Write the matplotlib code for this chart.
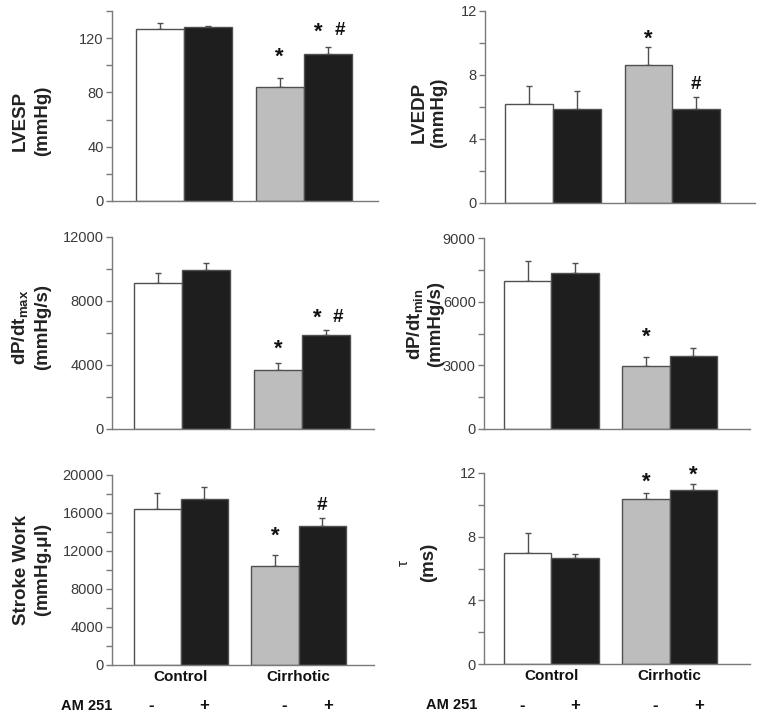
import matplotlib
matplotlib.use("Agg")
import matplotlib.pyplot as plt
from matplotlib.transforms import blended_transform_factory

plt.rcParams['font.family'] = ['Liberation Sans', 'DejaVu Sans']
plt.rcParams['mathtext.default'] = 'regular'

groups = ["Control", "Cirrhotic"]
am251 = ["-", "+", "-", "+"]

lvesp_mean = [127, 128, 84, 108.5]
lvesp_sem = [4, 1, 6.5, 5]
lvedp_mean = [6.2, 5.9, 8.65, 5.9]
lvedp_sem = [1.1, 1.1, 1.1, 0.7]
dpmax_mean = [9100, 9950, 3700, 5880]
dpmax_sem = [650, 400, 450, 280]
dpmin_mean = [6980, 7340, 2990, 3460]
dpmin_sem = [920, 480, 400, 350]
sw_mean = [16400, 17450, 10470, 14610]
sw_sem = [1740, 1320, 1090, 900]
tau_mean = [6.98, 6.63, 10.35, 10.92]
tau_sem = [1.22, 0.25, 0.38, 0.39]

# significance markers per bar
lvesp_sig = ["", "", "*", "* #"]
lvedp_sig = ["", "", "*", "#"]
dpmax_sig = ["", "", "*", "* #"]
dpmin_sig = ["", "", "*", ""]
sw_sig = ["", "", "*", "#"]
tau_sig = ["", "", "*", "*"]
# gap (pixels) between error-bar top and marker centre
lvesp_gap = [0, 0, 24, 18]
lvedp_gap = [0, 0, 11, 15]
dpmax_gap = [0, 0, 16, 15]
dpmin_gap = [0, 0, 23, 0]
sw_gap = [0, 0, 22, 14]
tau_gap = [0, 0, 14, 12]

positions = [0, 1, 2.5, 3.5]
colors = ["white", "#1e1e1e", "#bdbdbd", "#1e1e1e"]
edge = "#505050"
axcol = "#7a7a7a"
tickcol = "#3a3a3a"

fig = plt.figure(figsize=(7.6, 7.21), dpi=100)

W, H = 760.0, 721.0
def rect(x0, x1, ytop, ybot):
    return [x0 / W, 1 - ybot / H, (x1 - x0) / W, (ybot - ytop) / H]

panels = [
    dict(r=rect(112, 378, 11, 201), mean=lvesp_mean, sem=lvesp_sem, sig=lvesp_sig, gap=lvesp_gap,
         ymax=140, step=20, lab=40, l1="LVESP", l2="(mmHg)", ly=0.42, lx=(-0.345, -0.262), xl=(-1.0, 4.55)),
    dict(r=rect(485, 755, 11, 203), mean=lvedp_mean, sem=lvedp_sem, sig=lvedp_sig, gap=lvedp_gap,
         ymax=12, step=2, lab=4, l1="LVEDP", l2="(mmHg)", ly=0.47, lx=(-0.245, -0.172), xl=(-0.92, 4.73)),
    dict(r=rect(112, 374, 237, 429), mean=dpmax_mean, sem=dpmax_sem, sig=dpmax_sig, gap=dpmax_gap,
         ymax=12000, step=2000, lab=4000, l1=r"dP/dt$_{max}$", l2="(mmHg/s)", ly=0.53, lx=(-0.35, -0.265), xl=(-0.96, 4.5)),
    dict(r=rect(484, 750, 238, 429), mean=dpmin_mean, sem=dpmin_sem, sig=dpmin_sig, gap=dpmin_gap,
         ymax=9000, step=1500, lab=3000, l1=r"dP/dt$_{min}$", l2="(mmHg/s)", ly=0.55, lx=(-0.26, -0.18), xl=(-0.92, 4.7)),
    dict(r=rect(112, 374, 475, 665), mean=sw_mean, sem=sw_sem, sig=sw_sig, gap=sw_gap,
         ymax=20000, step=2000, lab=4000, l1="Stroke Work", l2=r"(mmHg.$\mu$l)", ly=0.5, lx=(-0.345, -0.262), xl=(-0.96, 4.6)),
    dict(r=rect(484, 750, 473, 664), mean=tau_mean, sem=tau_sem, sig=tau_sig, gap=tau_gap,
         ymax=12, step=2, lab=4, l1="τ", l2="(ms)", ly=0.53, lx=(-0.3, -0.21), xl=(-0.92, 4.7)),
]

for i, p in enumerate(panels):
    ax = fig.add_axes(p["r"])
    ax.bar(positions, p["mean"], width=1.0, color=colors, edgecolor=edge, linewidth=1.0, zorder=2)
    ax.errorbar(positions, p["mean"], yerr=[[0] * 4, p["sem"]], fmt="none",
                ecolor=edge, elinewidth=1.0, capsize=2.5, capthick=1.0, zorder=1)
    ax.set_xlim(*p["xl"])
    ax.set_ylim(0, p["ymax"])
    ticks = list(range(0, p["ymax"] + 1, p["step"]))
    ax.set_yticks(ticks)
    ax.set_yticklabels([str(t) if t % p["lab"] == 0 else "" for t in ticks])
    ax.set_xticks([])
    for s in ["top", "right"]:
        ax.spines[s].set_visible(False)
    for s in ["left", "bottom"]:
        ax.spines[s].set_color(axcol)
        ax.spines[s].set_linewidth(1.0)
    ax.tick_params(axis="y", direction="out", length=4, width=1.0, color=axcol,
                   labelsize=10.5, labelcolor=tickcol, pad=2)
    # y labels
    if p["l1"] == "τ":
        ax.text(p["lx"][0], p["ly"], p["l1"], transform=ax.transAxes, rotation=90,
                ha="center", va="center", fontsize=11, color="#222222")
    else:
        ax.text(p["lx"][0], p["ly"], p["l1"], transform=ax.transAxes, rotation=90,
                ha="center", va="center", fontsize=13.5, fontweight="bold", color="#222222")
    ax.text(p["lx"][1], p["ly"], p["l2"], transform=ax.transAxes, rotation=90,
            ha="center", va="center", fontsize=13.5, fontweight="bold", color="#222222")
    # significance markers
    for x, m, s, sig, g in zip(positions, p["mean"], p["sem"], p["sig"], p["gap"]):
        if not sig:
            continue
        parts = sig.split()
        offs = [0] if len(parts) == 1 else [-9, 12]
        for part, ox in zip(parts, offs):
            if part == "*":
                ax.annotate("*", xy=(x, m + s), xytext=(ox, g - 13.3), textcoords="offset pixels",
                            ha="center", va="bottom", fontsize=16, fontweight="bold", color="#111111")
            else:
                ax.annotate("#", xy=(x, m + s), xytext=(ox, g - 10.3), textcoords="offset pixels",
                            ha="center", va="bottom", fontsize=13.5, fontweight="bold", color="#111111")
    # bottom row labels
    if i >= 4:
        tr = blended_transform_factory(ax.transData, ax.transAxes)
        ax.text(0.5, -0.065, groups[0], transform=tr, ha="center", va="center",
                fontsize=11, fontweight="bold", color="#111111")
        ax.text(3.0, -0.065, groups[1], transform=tr, ha="center", va="center",
                fontsize=11, fontweight="bold", color="#111111")
        sign_offs = [-0.12, 0.0, 0.2, 0.12]
        for x, sgn, o in zip(positions, am251, sign_offs):
            ax.text(x + o, -0.215, sgn, transform=tr, ha="center", va="center",
                    fontsize=12, fontweight="bold", color="#111111")
        ax.text(-0.095 if i == 4 else -0.122, -0.215, "AM 251", transform=ax.transAxes,
                ha="center", va="center", fontsize=10.5, fontweight="bold", color="#111111")

fig.savefig("out.png", dpi=100)
